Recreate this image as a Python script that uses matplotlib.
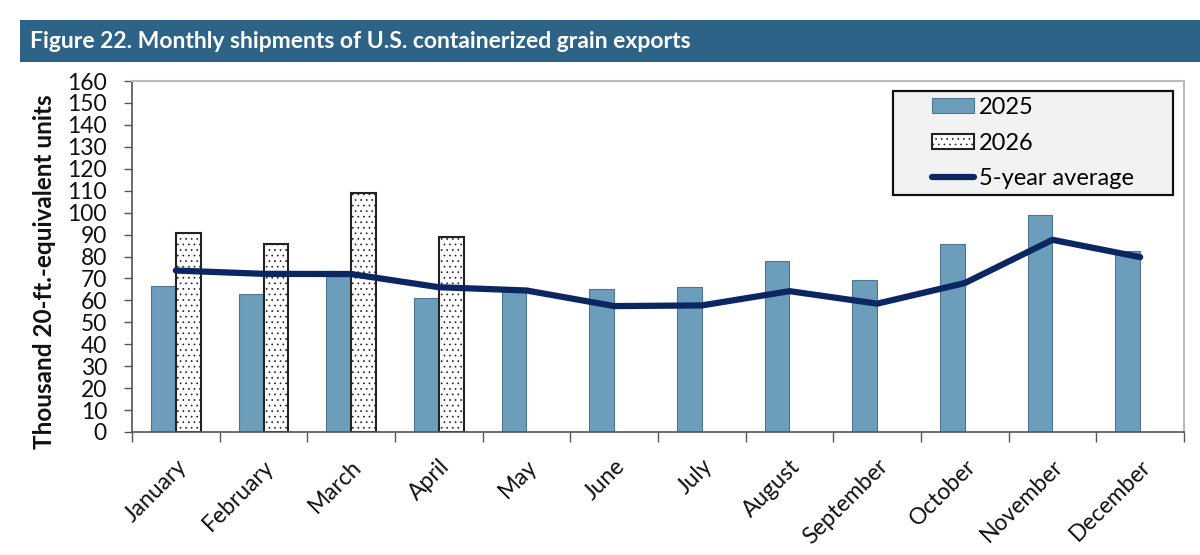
import matplotlib
matplotlib.use("Agg")
import matplotlib.pyplot as plt
import numpy as np
from matplotlib.patches import Rectangle

plt.rcParams['font.family'] = ['Lato', 'DejaVu Sans']
plt.rcParams['hatch.linewidth'] = 0.5
plt.rcParams['hatch.color'] = '#555555'

months = ["January", "February", "March", "April", "May", "June", "July",
          "August", "September", "October", "November", "December"]
y2025 = [66.4, 63.0, 73.6, 61.2, 64.5, 65.3, 66.0, 77.9, 69.4, 85.5, 99.1, 82.7]
y2026 = [90.6, 85.7, 109.0, 89.0]
avg5 = [73.6, 72.1, 72.0, 66.0, 64.5, 57.4, 57.7, 64.2, 58.5, 67.9, 87.6, 79.7]
yticks = list(range(0, 161, 10))

title = "Figure 22. Monthly shipments of U.S. containerized grain exports"
ylabel = "Thousand 20-ft.-equivalent units"

fig = plt.figure(figsize=(12, 5.55), dpi=100)
fig.patch.set_facecolor('white')

# Title banner
fig.patches.append(Rectangle((20/1200, 1-62/555), 1-20/1200, 42/555,
                             transform=fig.transFigure, facecolor='#2C6386',
                             edgecolor='none', zorder=0))
fig.text(30/1200, 1-41/555, title, color='white', fontsize=16.5,
         fontweight='bold', va='center', ha='left')

ax = fig.add_axes([132/1200, 1-432/555, 1052/1200, 351/555])

x = np.arange(len(months))
w = 0.285
b25 = ax.bar(x + 0.5 - w, y2025, width=w, align='edge',
             color='#6C9EBC', edgecolor='#4F7490', linewidth=0.8, zorder=2,
             label='2025')
b26 = ax.bar(x[:len(y2026)] + 0.5, y2026, width=w, align='edge',
             color='white', edgecolor='#222222', linewidth=1.5, hatch='...',
             zorder=2, label='2026')
ln, = ax.plot(x + 0.5, avg5, color='#0B2762', linewidth=4.5,
              solid_capstyle='round', solid_joinstyle='round', zorder=3,
              label='5-year average')

ax.set_xlim(0, 12)
ax.set_ylim(0, 160)
ax.set_yticks(yticks)
ax.set_yticklabels([str(t) for t in yticks], fontsize=16.5, color='#111111')
ax.set_xticks(np.arange(0, 13))
ax.set_xticklabels([])
ax.set_xticks(x + 0.5, minor=True)
ax.set_xticklabels(months, minor=True, rotation=45, ha='right',
                   rotation_mode='anchor', fontsize=16.5, color='#111111')
ax.tick_params(axis='x', which='minor', length=0, pad=17)
ax.tick_params(axis='x', which='major', length=7, width=1, color='#555555',
               direction='out')
ax.tick_params(axis='y', length=6, width=1, color='#555555', pad=12)

for s in ['left', 'bottom']:
    ax.spines[s].set_color('#555555')
    ax.spines[s].set_linewidth(1.2)
for s in ['top', 'right']:
    ax.spines[s].set_color('#BBBBBB')
    ax.spines[s].set_linewidth(1.5)

fig.text(45/1200, 1-272/555, ylabel, rotation=90, fontsize=17.5,
         fontweight='bold', ha='center', va='center', color='#111111')

# Legend box
lx0, lw = (893-132)/1052, 280/1052
ly0, lh = (432-195)/351, 104/351
ax.add_patch(Rectangle((lx0, ly0), lw, lh, transform=ax.transAxes,
                       facecolor='#F2F2F2', edgecolor='#111111',
                       linewidth=1.6, zorder=4))
leg = ax.legend([b25, b26, ln], ['2025', '2026', '5-year average'],
                loc='center', bbox_to_anchor=(lx0 + lw/2, ly0 + lh/2),
                fontsize=17, frameon=False,
                handlelength=1.8, handleheight=0.62, handletextpad=0.2,
                labelspacing=0.62, borderpad=0.0, borderaxespad=0)
leg.set_zorder(5)

fig.savefig('out.png', dpi=100)
